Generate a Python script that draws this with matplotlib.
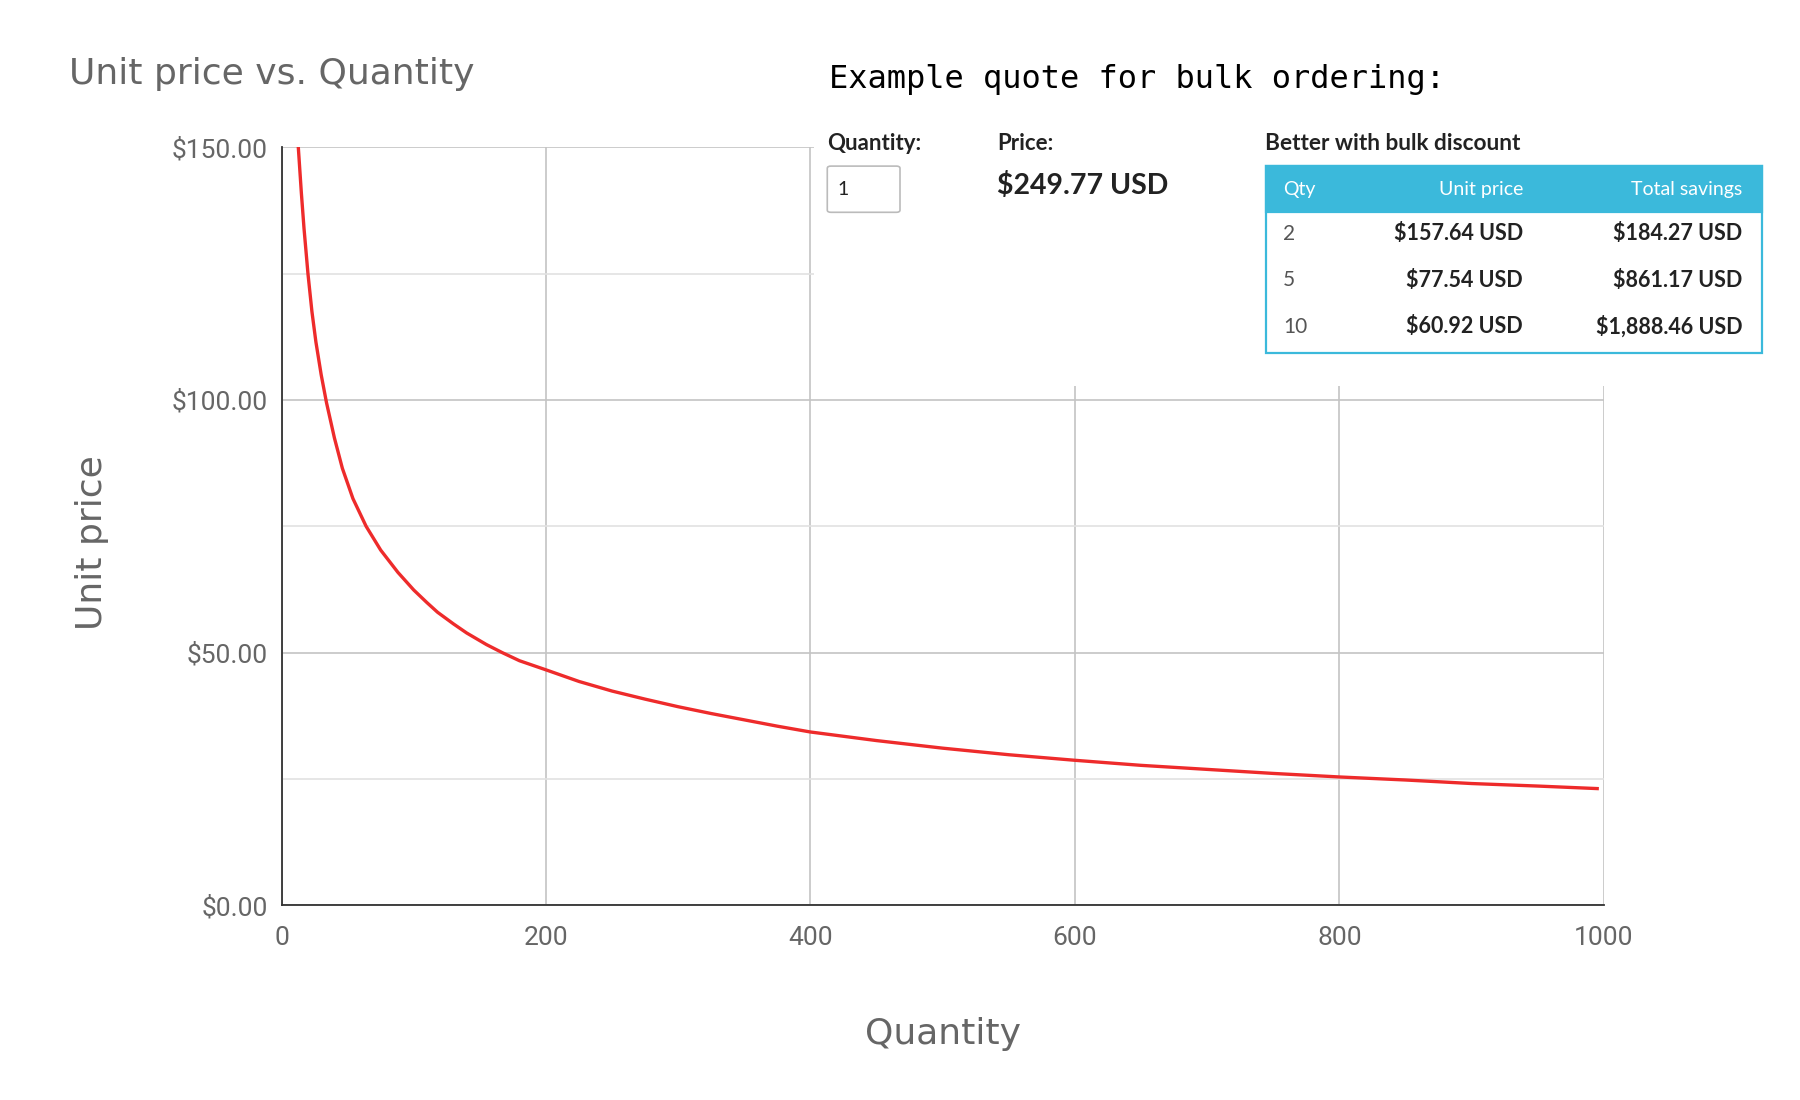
import matplotlib.pyplot as plt
from matplotlib.patches import Rectangle, FancyBboxPatch
from matplotlib.ticker import MultipleLocator, FuncFormatter

# curve
quantity = [12.7, 15, 17, 20, 23, 26, 30, 34, 40, 46, 54, 64, 75, 88, 100,
            110, 118, 130, 140, 155, 167, 180, 200, 225, 250, 275, 300, 325,
            350, 375, 400, 450, 500, 550, 600, 650, 700, 750, 800, 850, 900,
            950, 995]
unit_price = [150, 141, 134, 125, 117.5, 111.5, 105, 99.5, 92.5, 86.5, 80.5,
              75, 70.3, 65.9, 62.4, 59.9, 58.0, 55.7, 53.9, 51.6, 50, 48.4,
              46.6, 44.3, 42.4, 40.8, 39.3, 37.95, 36.7, 35.45, 34.3, 32.6,
              31.1, 29.8, 28.7, 27.7, 26.9, 26.1, 25.4, 24.8, 24.1, 23.6, 23.1]

# quote widget
quote_qty = '1'
quote_price = '$249.77 USD'
table_qty = ['2', '5', '10']
table_unit = ['$157.64 USD', '$77.54 USD', '$60.92 USD']
table_savings = ['$184.27 USD', '$861.17 USD', '$1,888.46 USD']

grey = '#666666'
cyan = '#3BB9DB'

fig = plt.figure(figsize=(18, 11), dpi=100)
ax = fig.add_axes([0.1564, 0.177, 0.7346, 0.689])

ax.plot(quantity, unit_price, color='#EE2B2B', lw=2.4, clip_on=True, zorder=3)
ax.set_xlim(0, 1000)
ax.set_ylim(0, 150)

ax.xaxis.set_major_locator(MultipleLocator(200))
ax.yaxis.set_major_locator(MultipleLocator(50))
ax.yaxis.set_minor_locator(MultipleLocator(25))
ax.yaxis.set_major_formatter(FuncFormatter(lambda v, p: '${:.2f}'.format(v)))
ax.grid(which='major', color='#C4C4C4', lw=1.2)
ax.grid(which='minor', axis='y', color='#E2E2E2', lw=1.2)
ax.set_axisbelow(True)
ax.tick_params(which='both', length=0, labelsize=19, labelcolor=grey)
ax.tick_params(axis='x', pad=15)
ax.tick_params(axis='y', pad=10)
for lab in ax.get_xticklabels() + ax.get_yticklabels():
    lab.set_family('Roboto')
for s in ['top', 'right']:
    ax.spines[s].set_visible(False)
for s in ['left', 'bottom']:
    ax.spines[s].set_color('#333333')
    ax.spines[s].set_linewidth(1.3)

fig.text(0.0385, 0.933, 'Unit price vs. Quantity', fontsize=26, color=grey,
         va='center', ha='left')
fig.text(0.524, 0.060, 'Quantity', fontsize=26, color=grey, ha='center', va='center')
fig.text(0.0513, 0.507, 'Unit price', fontsize=26, color=grey, rotation=90,
         ha='center', va='center')

# white panel hiding the top right of the plot
fig.add_artist(Rectangle((0.4522, 0.649), 0.55, 0.36, transform=fig.transFigure,
                         facecolor='white', edgecolor='none', zorder=5))

fig.text(0.4605, 0.928, 'Example quote for bulk ordering:', family='DejaVu Sans Mono',
         fontsize=23, color='black', va='center', zorder=6)

wfont = 'Lato'
fig.text(0.4596, 0.870, 'Quantity:', family=wfont, weight='bold', fontsize=16,
         color='#222222', va='center', zorder=6)
fig.add_artist(FancyBboxPatch((0.4596, 0.807), 0.0404, 0.042,
                              boxstyle='round,pad=0,rounding_size=0.002',
                              transform=fig.transFigure, facecolor='white',
                              edgecolor='#BBBBBB', lw=1.2, zorder=6))
fig.text(0.4655, 0.828, quote_qty, family=wfont, fontsize=14, color='#222222',
         va='center', zorder=7)
fig.text(0.554, 0.870, 'Price:', family=wfont, weight='bold', fontsize=16,
         color='#222222', va='center', zorder=6)
fig.text(0.554, 0.831, quote_price, family=wfont, weight='bold', fontsize=20.5,
         color='#222222', va='center', zorder=6)
fig.text(0.7026, 0.870, 'Better with bulk discount', family=wfont, weight='bold',
         fontsize=16.3, color='#222222', va='center', zorder=6)

# discount table
tx0, tx1, ty0, ty1 = 0.7032, 0.9788, 0.679, 0.849
fig.add_artist(Rectangle((tx0, ty0), tx1 - tx0, ty1 - ty0, transform=fig.transFigure,
                         facecolor='white', edgecolor=cyan, lw=1.6, zorder=6))
fig.add_artist(Rectangle((tx0, 0.807), tx1 - tx0, ty1 - 0.807, transform=fig.transFigure,
                         facecolor=cyan, edgecolor=cyan, lw=1.6, zorder=6))
col_qty, col_unit, col_sav = 0.7128, 0.8462, 0.9679
hy = 0.828
fig.text(col_qty, hy, 'Qty', family=wfont, fontsize=14, color='white', va='center', zorder=7)
fig.text(col_unit, hy, 'Unit price', family=wfont, fontsize=14, color='white',
         va='center', ha='right', zorder=7)
fig.text(col_sav, hy, 'Total savings', family=wfont, fontsize=14, color='white',
         va='center', ha='right', zorder=7)
row_y = [0.7875, 0.745, 0.703]
for q, u, s, y in zip(table_qty, table_unit, table_savings, row_y):
    fig.text(col_qty, y, q, family=wfont, fontsize=15, color='#555555', va='center', zorder=7)
    fig.text(col_unit, y, u, family=wfont, weight='bold', fontsize=15.5, color='#222222',
             va='center', ha='right', zorder=7)
    fig.text(col_sav, y, s, family=wfont, weight='bold', fontsize=15.5, color='#222222',
             va='center', ha='right', zorder=7)

fig.savefig('out.png', dpi=100, facecolor='white')
